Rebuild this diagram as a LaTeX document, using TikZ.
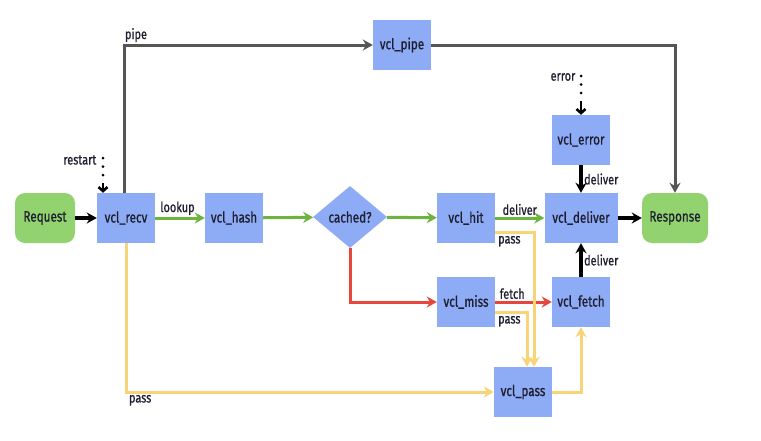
\documentclass[tikz,border=0pt]{standalone}
\usepackage{fontspec}
\setmainfont[FakeStretch=0.78,FakeBold=0.8]{Fira Sans}
\usetikzlibrary{shapes.geometric,arrows.meta}
\definecolor{boxblue}{HTML}{8EACF5}
\definecolor{nodegreen}{HTML}{93D36F}
\definecolor{arrgreen}{HTML}{6DB33F}
\definecolor{arryellow}{HTML}{F8D378}
\definecolor{arrred}{HTML}{E5473C}
\definecolor{arrgray}{HTML}{555555}
\definecolor{txt}{HTML}{1E1E30}
\tikzset{
  vbox/.style={fill=boxblue, minimum width=58pt, minimum height=50pt, inner sep=0pt, font=\fontsize{15}{17}\selectfont, text=txt},
  term/.style={fill=nodegreen, rounded corners=10pt, minimum width=60pt, minimum height=50pt, inner sep=0pt, font=\fontsize{15}{17}\selectfont, text=txt},
  decision/.style={diamond, fill=boxblue, minimum width=74pt, minimum height=62pt, inner sep=0pt, aspect=1.2, font=\fontsize{15}{17}\selectfont, text=txt},
  lbl/.style={font=\fontsize{14}{16}\selectfont, text=txt, inner sep=1.5pt},
  tip/.style={-{Stealth[length=10pt,width=11pt]}},
  blk/.style={tip, draw=black, line width=3.2pt},
  grn/.style={tip, draw=arrgreen, line width=3pt},
  ylw/.style={tip, draw=arryellow, line width=3pt},
  red/.style={tip, draw=arrred, line width=3pt},
  gry/.style={tip, draw=arrgray, line width=3pt},
  dots/.style={draw=black, line width=3pt, line cap=round, dash pattern=on 0pt off 8.5pt},
  vhead/.style={-{Straight Barb[length=4pt,width=9pt,line width=2.6pt]}, draw=black, line width=2.6pt},
}
\begin{document}
\begin{tikzpicture}[x=1pt,y=-1pt]
\useasboundingbox (0,0) rectangle (761,440);
\node[term] (request) at (45,218) {Request};
\node[vbox] (recv) at (126,218) {vcl\_recv};
\node[vbox] (hash) at (234,218) {vcl\_hash};
\node[decision] (cached) at (350,217) {cached?};
\node[vbox] (hit) at (466,218) {vcl\_hit};
\node[vbox, minimum width=73pt] (deliver) at (581,218) {vcl\_deliver};
\node[term, minimum width=66pt] (response) at (675,218) {Response};
\node[vbox] (error) at (581,140) {vcl\_error};
\node[vbox] (pipe) at (402,45) {vcl\_pipe};
\node[vbox] (miss) at (466,302) {vcl\_miss};
\node[vbox] (fetch) at (581,302) {vcl\_fetch};
\node[vbox] (pass) at (523,392) {vcl\_pass};
\node[lbl, anchor=east] (restarttxt) at (98,160) {restart};
\node[lbl, anchor=east] (errortxt) at (577,77) {error};
\coordinate (restartsrc) at (103,158);
\coordinate (restartmid) at (103,180);
\coordinate (errorsrc) at (581,76);
\coordinate (errormid) at (581,98);

% main row
\draw[blk] (request) -- (recv);
\draw[grn] (recv) -- node[lbl, above, pos=0.45] (lookuplbl) {lookup} (hash);
\draw[grn] (hash) -- (cached);
\draw[grn] (cached) -- (hit);
\draw[grn] (hit) -- node[lbl, above] (deliverlbl1) {deliver} (deliver);
\draw[blk] (deliver) -- (response);
\draw[blk] (error) -- node[lbl, right] (deliverlbl2) {deliver} (deliver);
\draw[blk] (fetch) -- node[lbl, right] (deliverlbl3) {deliver} (deliver);

% dotted entries
\draw[dots] (restartsrc) -- (restartmid);
\draw[vhead] ([yshift=-3pt]restartmid) -- (restartsrc |- recv.north);
\draw[dots] (errorsrc) -- (errormid);
\draw[vhead] ([yshift=-3pt]errormid) -- (error.north);

% pipe
\draw[gry] ([xshift=-2pt]recv.north) |- node[lbl, pos=0.5, above right, xshift=-2pt] (pipelbl) {pipe} (pipe.west);
\draw[gry] (pipe.east) -| (response.north);

% miss path
\draw[red] (cached.south) |- (miss.west);
\draw[red] (miss) -- node[lbl, above, pos=0.3] (fetchlbl) {fetch} (fetch);

% pass paths
\draw[ylw] ([yshift=-14pt]hit.east) -| node[lbl, pos=0.0, anchor=north west, yshift=-1pt] (passlbl1) {pass} ([xshift=11pt]pass.north);
\draw[ylw] ([yshift=-10pt]miss.east) -| node[lbl, pos=0.0, anchor=north west, yshift=-1pt] (passlbl2) {pass} ([xshift=4pt]pass.north);
\draw[ylw] (recv.south) |- node[lbl, pos=0.5, anchor=north west] (passlbl3) {pass} (pass.west);
\draw[ylw] (pass.east) -| (fetch.south);
\end{tikzpicture}
\end{document}
